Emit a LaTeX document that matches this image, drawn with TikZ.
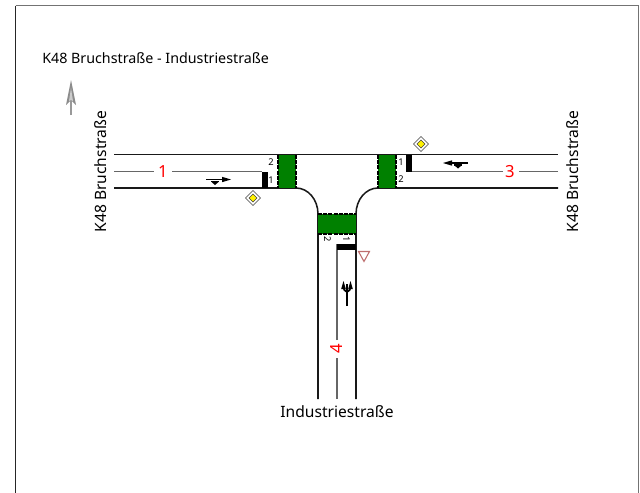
\documentclass[tikz,border=0pt]{standalone}
\usepackage{fontspec}
\setmainfont{Noto Sans}
\usepackage{tikz}
\usetikzlibrary{arrows,calc,positioning}
\definecolor{signal}{RGB}{0,128,0}
\definecolor{yieldred}{RGB}{190,110,110}
\tikzset{
	kerb/.style={draw=black!90, line width=1.15pt},
	midline/.style={draw=black!60, line width=1.1pt},
	crossing/.style={fill=signal},
	crossedge/.style={draw=black, line width=1.3pt, dash pattern=on 3pt off 0.9pt},
	stopbar/.style={fill=black},
	lanesym/.style={draw=black, line width=1.3pt},
	streetname/.style={font=\fontsize{11.7}{12}\selectfont, inner sep=0pt},
	armno/.style={font=\fontsize{12.5}{13}\selectfont, text=red, inner sep=0pt},
	laneno/.style={font=\fontsize{7}{8}\selectfont, inner sep=0pt}
}
\begin{document}
\begin{tikzpicture}[x=0.75pt,y=-0.75pt]
\useasboundingbox (0,0) rectangle (640,493);
\draw[draw=black!55, line width=1.1pt] (15.5,5.5) -- (638.5,5.5) -- (638.5,520);
\draw[draw=black!85, line width=1pt] (15.5,5.5) -- (15.5,520);

\node[streetname, font=\fontsize{10.7}{12}\selectfont, anchor=west] (title) at (42,58) {K48 Bruchstraße - Industriestraße};
\node[streetname, rotate=90] (nameW) at (101,171.5) {K48 Bruchstraße};
\node[streetname, rotate=90] (nameE) at (573,171.5) {K48 Bruchstraße};
\node[streetname] (nameS) at (337,412) {Industriestraße};

% north arrow
\draw[draw=black!40, line width=0.8pt] (71,115) -- (71,95);
\fill[black!45] (71,80) -- (76,105) -- (71,100) -- (66,105) -- cycle;
\fill[black!20] (71,88) -- (73,101) -- (71,100) -- (69,101) -- cycle;

% kerbs
\draw[kerb] (114,154.5) -- (558,154.5);
\draw[kerb] (114,188) -- (296,188) arc[start angle=-90, delta angle=90, x radius=22, y radius=26] -- (318,399);
\draw[kerb] (558,188) -- (378,188) arc[start angle=-90, delta angle=-90, x radius=22, y radius=26] -- (356,399);

% centre lines with arm numbers
\node[armno] (arm1) at (163,171.5) {1};
\node[armno] (arm3) at (510,171.5) {3};
\node[armno, rotate=90] (arm4) at (337,349) {4};
\coordinate (stopW) at (262,171.5);
\coordinate (stopE) at (412,171.5);
\coordinate (stopS) at (337,244);
\draw[midline] (114,171.5) -- (154,171.5);
\draw[midline] (172,171.5) -- (stopW);
\draw[midline] (558,171.5) -- (519,171.5);
\draw[midline] (503,171.5) -- (stopE);
\draw[midline] (337,399) -- (337,358);
\draw[midline] (337,340) -- (stopS);

% crossings
\fill[crossing] (278,155) rectangle (296,188);
\fill[crossing] (378,155) rectangle (396,188);
\fill[crossing] (318,214) rectangle (356,234);
\draw[crossedge] (278,155) -- (278,188);
\draw[crossedge] (296,155) -- (296,188);
\draw[crossedge] (378,155) -- (378,188);
\draw[crossedge] (396,155) -- (396,188);
\draw[crossedge] (318,214) -- (356,214);
\draw[crossedge] (318,234) -- (356,234);

% stop bars
\fill[stopbar] (262,171.5) rectangle (268,188);
\fill[stopbar] (406,155) rectangle (412,171.5);
\fill[stopbar] (337,244) rectangle (356,250);

% lane numbers
\node[laneno] (lane12) at (271,162) {2};
\node[laneno] (lane11) at (271,180) {1};
\node[laneno] (lane31) at (401,162.5) {1};
\node[laneno] (lane32) at (401,179) {2};
\node[laneno, rotate=-90] (lane42) at (327.5,239) {2};
\node[laneno, rotate=-90] (lane41) at (346.5,239) {1};

% lane arrows
\draw[lanesym] (206,179.5) -- (226,179.5);
\fill (231,179.5) -- (222,176.8) -- (222,182.2) -- cycle;
\draw[lanesym] (211,181.5) -- (219,181.5);
\fill (211.5,182) -- (218.5,182) -- (215,185) -- cycle;
\draw[lanesym] (468,163) -- (448,163);
\fill (443,163) -- (452,160.3) -- (452,165.7) -- cycle;
\draw[lanesym] (454,165) -- (462,165);
\fill (454.5,165.5) -- (461.5,165.5) -- (458,168.5) -- cycle;
\draw[lanesym] (347,306) -- (347,284);
\draw[lanesym] (347,292) .. controls (345,291) and (343.5,290) .. (343.5,286);
\draw[lanesym] (347,292) .. controls (349,291) and (350.5,290) .. (350.5,286);
\fill (343.5,281) -- (341.2,289) -- (345.8,289) -- cycle;
\fill (350.5,281) -- (348.2,289) -- (352.8,289) -- cycle;

% priority signs
\foreach \cx/\cy in {253/198, 421/144}{
	\draw[fill=white, draw=black!75, line width=0.5pt] (\cx-7.5,\cy) -- (\cx,\cy-7.5) -- (\cx+7.5,\cy) -- (\cx,\cy+7.5) -- cycle;
	\draw[fill=yellow, draw=black!75, line width=0.5pt] (\cx-4,\cy) -- (\cx,\cy-4) -- (\cx+4,\cy) -- (\cx,\cy+4) -- cycle;
}
% yield sign
\draw[fill=white, draw=yieldred, line width=0.8pt] (358.5,251.5) -- (369.5,251.5) -- (364,261.5) -- cycle;
\end{tikzpicture}
\end{document}
